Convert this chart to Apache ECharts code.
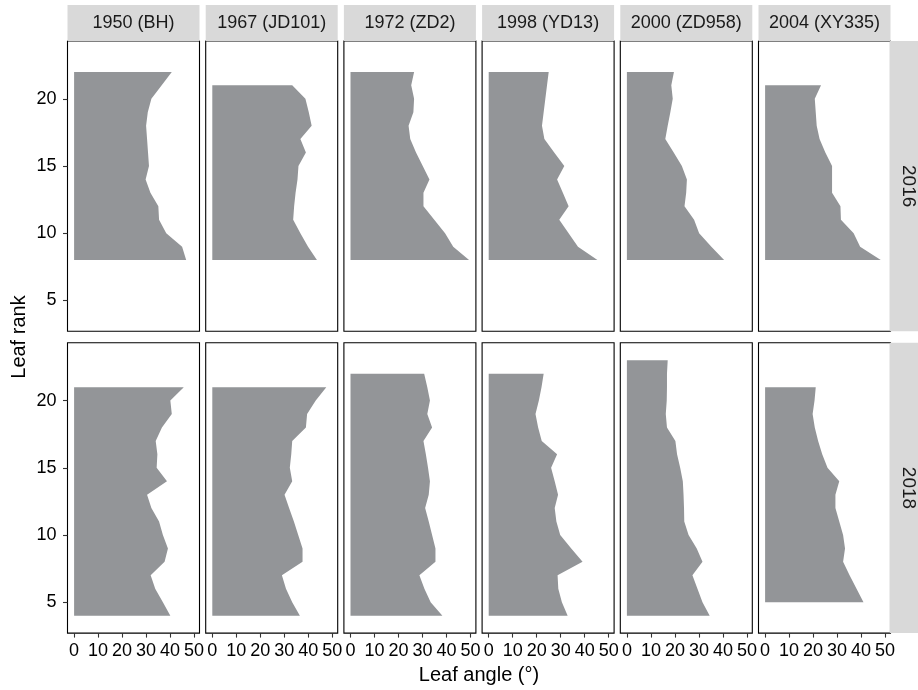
<!DOCTYPE html>
<html>
<head>
<meta charset="utf-8">
<script src="https://cdn.jsdelivr.net/npm/echarts@6/dist/echarts.min.js"></script>
<style>
html,body{margin:0;padding:0;background:#fff;}
#chart{width:918px;height:690px;}
</style>
</head>
<body>
<div id="chart"></div>
<script>
// ---------- categories / ticks ----------
const hybrids = ['1950 (BH)', '1967 (JD101)', '1972 (ZD2)', '1998 (YD13)', '2000 (ZD958)', '2004 (XY335)'];
const years = ['2016', '2018'];
const xTicks = [0, 10, 20, 30, 40, 50];
const yTicks = [5, 10, 15, 20];

// ---------- 2016: leaf ranks (top to bottom) and leaf angles ----------
const rank2016_BH    = [22,21,20,19,18,17,16,15,14,13,12,11,10,9,8];
const angle2016_BH   = [40.7,36.5,32.2,30.7,30.0,30.4,30.8,31.2,29.8,31.8,35.1,35.4,38.4,45.0,46.7];
const rank2016_JD101  = [21,20,19,18,17,16,15,14,13,12,11,10,9,8];
const angle2016_JD101 = [33.3,38.8,40.2,41.4,36.7,39.0,35.9,35.5,34.7,34.1,33.7,36.7,39.9,43.6];
const rank2016_ZD2    = [22,21,20,19,18,17,16,15,14,13,12,11,10,9,8];
const angle2016_ZD2   = [26.5,25.3,26.5,26.2,24.2,24.9,27.3,30.1,32.9,30.4,30.4,34.9,39.4,42.8,49.4];
const rank2016_YD13   = [22,21,20,19,18,17,16,15,14,13,12,11,10,9,8];
const angle2016_YD13  = [25.0,24.3,23.6,22.9,22.2,23.2,27.3,31.5,28.5,30.9,33.3,29.4,33.3,37.2,45.3];
const rank2016_ZD958  = [22,21,20,19,18,17,16,15,14,13,12,11,10,9,8];
const angle2016_ZD958 = [19.6,18.5,19.1,18.1,17.0,16.0,19.5,22.9,25.0,24.7,24.0,28.0,30.1,35.2,40.5];
const rank2016_XY335  = [21,20,19,18,17,16,15,14,13,12,11,10,9,8];
const angle2016_XY335 = [23.3,20.7,21.1,21.5,22.7,25.1,27.9,27.9,27.9,31.4,31.6,36.9,39.6,48.2];

// ---------- 2018 ----------
const rank2018_BH    = [21,20,19,18,17,16,15,14,13,12,11,10,9,8,7,6,5,4];
const angle2018_BH   = [45.7,40.1,40.7,36.6,34.0,34.7,34.4,38.7,30.4,32.2,35.4,37.0,39.1,37.7,31.9,33.8,37.0,40.1];
const rank2018_JD101  = [21,20,19,18,17,16,15,14,13,12,11,10,9,8,7,6,5,4];
const angle2018_JD101 = [47.5,43.1,39.5,39.0,33.3,32.9,32.3,33.3,30.1,32.0,34.0,35.8,37.6,37.6,29.0,30.7,33.3,36.5];
const rank2018_ZD2    = [22,21,20,19,18,17,16,15,14,13,12,11,10,9,8,7,6,5,4];
const angle2018_ZD2   = [30.7,32.0,33.1,32.0,34.0,30.4,31.4,32.3,33.1,32.6,31.1,32.6,34.0,35.4,35.4,28.7,30.8,33.4,38.3];
const rank2018_YD13   = [22,21,20,19,18,17,16,15,14,13,12,11,10,9,8,7,6,5,4];
const angle2018_YD13  = [22.9,22.0,20.9,19.5,20.6,22.1,28.5,26.0,27.5,28.9,27.5,28.2,29.8,34.4,39.1,28.7,29.0,30.5,32.9];
const rank2018_ZD958  = [23,22,21,20,19,18,17,16,15,14,13,12,11,10,9,8,7,6,5,4];
const angle2018_ZD958 = [17.0,16.7,16.7,16.6,16.2,16.7,20.2,20.9,22.2,23.3,23.6,23.8,23.9,25.7,29.1,31.5,27.3,29.4,31.5,34.5];
const rank2018_XY335  = [21,20,19,18,17,16,15,14,13,12,11,10,9,8,7,6,5];
const angle2018_XY335 = [21.1,20.6,19.8,20.7,22.1,23.8,26.0,30.9,29.3,29.3,30.9,32.5,33.3,32.5,35.2,38.1,41.0];

const panelData = [
  [[rank2016_BH, angle2016_BH], [rank2016_JD101, angle2016_JD101], [rank2016_ZD2, angle2016_ZD2],
   [rank2016_YD13, angle2016_YD13], [rank2016_ZD958, angle2016_ZD958], [rank2016_XY335, angle2016_XY335]],
  [[rank2018_BH, angle2018_BH], [rank2018_JD101, angle2018_JD101], [rank2018_ZD2, angle2018_ZD2],
   [rank2018_YD13, angle2018_YD13], [rank2018_ZD958, angle2018_ZD958], [rank2018_XY335, angle2018_XY335]]
];

// ---------- layout ----------
const FONT = 'Liberation Sans, Arial, Helvetica, sans-serif';
const FILL = '#939598';
const STRIP = '#D9D9D9';
const panelLeft0 = 67.5, panelPitch = 138.2, panelW = 132;
const rowTops = [41, 342.8], panelH = 290.3;
const stripTop = 5, stripH = 36;
const rowStripX = 889.8, rowStripW = 36;

const grids = [], xAxes = [], yAxes = [], series = [], graphics = [];

function makeRender(pts) {
  return function (params, api) {
    if (params.dataIndex !== 0) return null;
    const poly = [api.coord([0, pts[0][1]])];
    pts.forEach(p => poly.push(api.coord(p)));
    poly.push(api.coord([0, pts[pts.length - 1][1]]));
    return { type: 'polygon', shape: { points: poly }, style: { fill: FILL } };
  };
}

let idx = 0;
for (let r = 0; r < 2; r++) {
  for (let c = 0; c < 6; c++) {
    const left = panelLeft0 + c * panelPitch;
    const top = rowTops[r];
    grids.push({
      left: left, top: top, width: panelW, height: panelH,
      show: true, borderColor: '#000', borderWidth: 1.1, backgroundColor: '#fff',
      containLabel: false, outerBoundsMode: 'none'
    });
    const bottomRow = r === 1, leftCol = c === 0;
    xAxes.push({
      type: 'value', gridIndex: idx, min: -2.75, max: 52.25,
      axisLine: { show: false, onZero: false },
      splitLine: { show: false },
      axisTick: { show: bottomRow, length: 4.5, customValues: xTicks, lineStyle: { color: '#333', width: 1.1 } },
      axisLabel: { show: bottomRow, customValues: xTicks, fontSize: 18, color: '#000', margin: 9, fontFamily: FONT, hideOverlap: false }
    });
    yAxes.push({
      type: 'value', gridIndex: idx, min: 2.7, max: 24.3,
      axisLine: { show: false, onZero: false },
      splitLine: { show: false },
      axisTick: { show: leftCol, length: 4.5, customValues: yTicks, lineStyle: { color: '#333', width: 1.1 } },
      axisLabel: { show: leftCol, customValues: yTicks, fontSize: 18, color: '#000', margin: 11, fontFamily: FONT }
    });
    const [ranks, angles] = panelData[r][c];
    const pts = ranks.map((rk, i) => [angles[i], rk]);
    series.push({
      type: 'custom', xAxisIndex: idx, yAxisIndex: idx,
      renderItem: makeRender(pts), data: pts, encode: { x: 0, y: 1 },
      silent: true, animation: false
    });
    idx++;
  }
}

// column strips
hybrids.forEach((h, c) => {
  const left = panelLeft0 + c * panelPitch;
  graphics.push({ type: 'rect', shape: { x: left, y: stripTop, width: panelW, height: stripH }, style: { fill: STRIP }, silent: true });
  graphics.push({ type: 'text', x: left + panelW / 2, y: stripTop + stripH / 2 + 0.5,
    style: { text: h, fontSize: 18, fill: '#1A1A1A', fontFamily: FONT, align: 'center', verticalAlign: 'middle' }, silent: true });
});
// row strips
years.forEach((y, r) => {
  graphics.push({ type: 'rect', shape: { x: rowStripX, y: rowTops[r], width: rowStripW, height: panelH }, style: { fill: STRIP }, silent: true });
  graphics.push({ type: 'text', x: rowStripX + rowStripW / 2, y: rowTops[r] + panelH / 2, rotation: -Math.PI / 2,
    style: { text: y, fontSize: 19, fill: '#1A1A1A', fontFamily: FONT, align: 'center', verticalAlign: 'middle' }, silent: true });
});
// axis titles
graphics.push({ type: 'text', x: panelLeft0 + (5 * panelPitch + panelW) / 2, y: 675,
  style: { text: 'Leaf angle (°)', fontSize: 20, fill: '#000', fontFamily: FONT, align: 'center', verticalAlign: 'middle' }, silent: true });
graphics.push({ type: 'text', x: 19, y: (rowTops[0] + rowTops[1] + panelH) / 2, rotation: Math.PI / 2,
  style: { text: 'Leaf rank', fontSize: 20, fill: '#000', fontFamily: FONT, align: 'center', verticalAlign: 'middle' }, silent: true });

const chart = echarts.init(document.getElementById('chart'), null, { renderer: 'canvas' });
chart.setOption({
  animation: false,
  backgroundColor: '#fff',
  grid: grids, xAxis: xAxes, yAxis: yAxes, series: series,
  graphic: { elements: graphics }
});
</script>
</body>
</html>
